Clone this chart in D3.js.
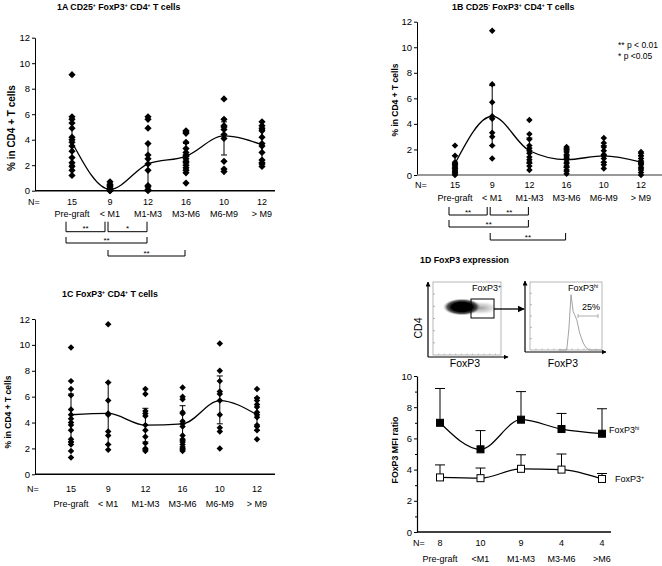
<!DOCTYPE html>
<html><head><meta charset="utf-8">
<script src="https://cdn.jsdelivr.net/npm/d3@7"></script>
<style>body{margin:0;background:#fff}svg{display:block}text{font-family:"Liberation Sans",Arial,sans-serif;fill:#000}</style>
</head><body>
<svg id="c" width="662" height="566"></svg>
<script>
// ---------------- DATA ----------------
const groups = ["Pre-graft", "< M1", "M1-M3", "M3-M6", "M6-M9", "> M9"];
const groupN = [15, 9, 12, 16, 10, 12];
const yTicks = [0, 2, 4, 6, 8, 10, 12];

// 1A CD25+ FoxP3+ CD4+ T cells
const panelA_values = [
  [9.1, 5.8, 5.6, 5.3, 4.9, 4.2, 4.0, 3.8, 3.5, 3.1, 2.6, 2.2, 1.9, 1.6, 1.2],
  [0.7, 0.5, 0.4, 0.3, 0.2, 0.1, 0.05, 0, 0],
  [5.8, 5.6, 4.9, 3.7, 2.8, 2.5, 2.1, 1.6, 0.4, 0.3, 0.1, 0],
  [4.7, 4.6, 4.5, 3.8, 3.3, 3.0, 2.8, 2.7, 2.5, 2.3, 2.2, 2.0, 1.8, 1.6, 1.4, 0.6],
  [7.2, 5.6, 5.1, 5.0, 4.8, 4.4, 4.1, 2.3, 1.7, 1.5],
  [5.4, 5.1, 4.9, 4.7, 4.2, 3.7, 3.5, 3.0, 2.4, 2.2, 2.1, 1.9]
];
const panelA_line = [3.8, 0.1, 2.1, 2.7, 4.3, 3.6];
const panelA_errLo = [2.0, 0.0, 0.0, 1.7, 2.8, 2.4];
const panelA_errHi = [5.6, 0.5, 3.7, 3.7, 5.4, 4.8];
const panelA_brackets = [[0, 1, "**", 0], [1, 2, "*", 0], [0, 2, "**", 1], [1, 3, "**", 2]];

// 1B CD25- FoxP3+ CD4+ T cells
const panelB_values = [
  [2.3, 1.5, 1.0, 0.9, 0.8, 0.8, 0.7, 0.6, 0.5, 0.5, 0.4, 0.3, 0.2, 0.1, 0.0],
  [11.3, 7.1, 5.7, 4.6, 4.4, 3.3, 3.0, 2.3, 1.3],
  [4.3, 3.2, 2.8, 2.3, 2.1, 1.9, 1.7, 1.4, 1.2, 1.0, 0.7, 0.4],
  [2.2, 2.1, 2.0, 1.8, 1.6, 1.5, 1.4, 1.3, 1.2, 1.0, 0.9, 0.7, 0.6, 0.4, 0.3, 0.1],
  [2.9, 2.5, 2.2, 1.9, 1.6, 1.5, 1.3, 1.0, 0.8, 0.5],
  [1.8, 1.7, 1.5, 1.3, 1.1, 1.0, 0.9, 0.8, 0.6, 0.4, 0.2, 0.0]
];
const panelB_line = [0.9, 4.6, 1.9, 1.2, 1.5, 1.0];
const panelB_errLo = [0.3, 2.3, 0.9, 0.6, 1.0, 0.5];
const panelB_errHi = [1.5, 7.0, 2.9, 1.9, 2.3, 1.5];
const panelB_brackets = [[0, 1, "**", 0], [1, 2, "**", 0], [0, 2, "**", 1], [1, 3, "**", 2]];
const pLegend = ["** p < 0.01", "* p <0.05"];

// 1C FoxP3+ CD4+ T cells
const panelC_values = [
  [9.8, 7.2, 6.6, 6.1, 5.0, 4.6, 4.3, 4.0, 3.8, 3.4, 2.7, 2.5, 2.3, 1.8, 1.3],
  [11.6, 7.1, 5.7, 4.7, 4.6, 3.3, 3.0, 2.3, 1.9],
  [6.6, 6.2, 4.9, 4.7, 4.5, 3.8, 3.4, 2.9, 2.4, 2.0, 1.9, 1.8],
  [6.7, 6.0, 5.8, 4.8, 4.7, 4.1, 3.9, 3.7, 3.0, 2.7, 2.5, 2.3, 2.1, 2.0, 1.9, 1.8],
  [10.1, 8.0, 7.2, 6.4, 6.2, 5.7, 4.6, 3.6, 3.3, 2.0],
  [6.6, 5.9, 5.7, 5.4, 5.2, 4.8, 4.6, 4.4, 3.8, 3.7, 3.4, 2.7]
];
const panelC_line = [4.6, 4.7, 3.8, 3.9, 5.7, 4.6];
const panelC_errLo = [2.5, 2.3, 2.5, 2.6, 3.9, 3.4];
const panelC_errHi = [6.2, 7.1, 5.1, 5.3, 7.6, 5.9];

// 1D FoxP3 MFI ratio
const mfiGroups = ["Pre-graft", "<M1", "M1-M3", "M3-M6", ">M6"];
const mfiN = [8, 10, 9, 4, 4];
const mfiTicks = [0, 2, 4, 6, 8, 10];
const mfiHi = [7.0, 5.3, 7.2, 6.6, 6.3];
const mfiHiTop = [9.2, 6.5, 9.0, 7.6, 7.9];
const mfiPos = [3.5, 3.45, 4.05, 4.0, 3.4];
const mfiPosTop = [4.3, 4.1, 4.95, 5.0, 3.75];

// histogram outline of FoxP3hi gate (relative units)
const histX = [40, 51, 54, 57, 60, 62.5, 65, 69, 74, 78, 83, 100];
const histY = [0, 0, 30, 79, 55, 49, 43, 24, 10, 3, 0, 0];

// ---------------- DRAW ----------------
const svg = d3.select("#c");
const FONT = '"Liberation Sans", Arial, sans-serif';

function richText(g, x, y, parts, opts) {
  const t = g.append("text").attr("x", x).attr("y", y)
    .attr("font-size", opts.size).attr("font-weight", opts.bold ? "bold" : "normal");
  parts.forEach(p => {
    if (typeof p === "string") t.append("tspan").text(p);
    else t.append("tspan").attr("font-size", opts.size * 0.6).attr("baseline-shift", "super").text(p.sup);
  });
  return t;
}

const diamond = d3.symbol().type(d3.symbolSquare);

function scatterPanel(cfg) {
  const x = d3.scalePoint().domain(groups).range(cfg.xr);
  const y = d3.scaleLinear().domain([0, 12]).range(cfg.yr);
  const g = svg.append("g");

  const ax = g.append("g").attr("transform", `translate(${cfg.ax},0)`)
    .call(d3.axisLeft(y).tickValues(yTicks).tickSize(3).tickSizeOuter(0).tickPadding(2));
  ax.attr("font-family", FONT).attr("font-size", 9.5);
  ax.select(".domain").attr("stroke", "#000").attr("stroke-width", 1);
  ax.selectAll(".tick line").attr("stroke", "#000");

  g.append("line").attr("x1", cfg.ax).attr("x2", cfg.xEnd)
    .attr("y1", y(0)).attr("y2", y(0))
    .attr("stroke", cfg.xColor || "#000").attr("stroke-width", 1.5);

  groups.forEach((gr, i) => {
    const cx = x(gr);
    const lo = y(cfg.errLo[i]), hi = y(cfg.errHi[i]);
    g.append("line").attr("x1", cx).attr("x2", cx).attr("y1", lo).attr("y2", hi).attr("stroke", "#000").attr("stroke-width", 1);
    [lo, hi].forEach(yy => g.append("line").attr("x1", cx - 3).attr("x2", cx + 3).attr("y1", yy).attr("y2", yy).attr("stroke", "#000").attr("stroke-width", 1));
  });

  cfg.values.forEach((vals, i) => {
    g.selectAll(null).data(vals).enter().append("path")
      .attr("d", diamond.size(cfg.dsize)())
      .attr("transform", v => `translate(${x(groups[i])},${y(v)}) rotate(45)`)
      .attr("fill", "#000");
  });

  const line = d3.line().x((d, i) => x(groups[i])).y(d => y(d)).curve(d3.curveMonotoneX);
  g.append("path").attr("d", line(cfg.line)).attr("fill", "none").attr("stroke", "#000").attr("stroke-width", 1.3);

  g.append("text").attr("x", cfg.nX).attr("y", cfg.nY).attr("font-size", 9).text("N=");
  groups.forEach((gr, i) => {
    g.append("text").attr("x", x(gr)).attr("y", cfg.nY).attr("text-anchor", "middle").attr("font-size", 9).text(groupN[i]);
    g.append("text").attr("x", x(gr)).attr("y", cfg.labY).attr("text-anchor", "middle").attr("font-size", 9).text(gr);
  });

  g.append("text").attr("transform", `translate(${cfg.ylX},${cfg.ylY}) rotate(-90)`)
    .attr("text-anchor", "middle").attr("font-size", cfg.ylSize).attr("font-weight", "bold")
    .text("% in CD4 + T cells");

  if (cfg.brackets) {
    cfg.brackets.forEach(([a, b, lab, row]) => {
      const left = x(groups[a]) - (a === 0 ? 6 : 2);
      const right = x(groups[b]) - (row === 0 && b === 1 ? 5 : 1);
      const top = cfg.bTop[row], bot = cfg.bBot[row];
      g.append("path").attr("d", `M${left},${top}V${bot}H${right}V${top}`)
        .attr("fill", "none").attr("stroke", "#000").attr("stroke-width", 1);
      g.append("text").attr("x", (left + right) / 2).attr("y", bot - 0.5).attr("text-anchor", "middle")
        .attr("font-size", 8).text(lab);
    });
  }
  return { x, y };
}

function title(x, y, parts) {
  const t = svg.append("text").attr("x", x).attr("y", y).attr("font-size", 8.8).attr("font-weight", "bold");
  parts.forEach(p => {
    if (typeof p === "string") t.append("tspan").text(p);
    else t.append("tspan").attr("font-size", 5).attr("baseline-shift", "super").text(p.sup);
  });
}

title(57, 9.5, ["1A  CD25", { sup: "+" }, " FoxP3", { sup: "+" }, " CD4", { sup: "+" }, " T cells"]);
title(452, 9.5, ["1B CD25", { sup: "-" }, " FoxP3", { sup: "+" }, " CD4", { sup: "+" }, " T cells"]);
title(62, 296.5, ["1C FoxP3", { sup: "+" }, " CD4", { sup: "+" }, " T cells"]);
title(420, 263, ["1D FoxP3 expression"]);

scatterPanel({
  values: panelA_values, line: panelA_line, errLo: panelA_errLo, errHi: panelA_errHi, brackets: panelA_brackets,
  ax: 35, xEnd: 275, xr: [72, 262], yr: [190.7, 37.7], nX: 28, nY: 205, labY: 216.5,
  ylX: 15, ylY: 128, ylSize: 10, dsize: 26, bTop: [221.7, 237, 250], bBot: [231.7, 243, 256]
});
scatterPanel({
  values: panelB_values, line: panelB_line, errLo: panelB_errLo, errHi: panelB_errHi, brackets: panelB_brackets,
  ax: 417, xEnd: 662, xr: [455, 641], yr: [175, 21.7], nX: 415, nY: 188, labY: 200.5, xColor: "#777",
  ylX: 398, ylY: 100, ylSize: 8.5, dsize: 21, bTop: [207, 220, 233], bBot: [215, 227, 240]
});
scatterPanel({
  values: panelC_values, line: panelC_line, errLo: panelC_errLo, errHi: panelC_errHi,
  ax: 35, xEnd: 275, xr: [71, 257], yr: [474.3, 319], nX: 27, nY: 491.5, labY: 506.5,
  ylX: 10.5, ylY: 412, ylSize: 8.5, dsize: 21
});

pLegend.forEach((t, i) => svg.append("text").attr("x", 618).attr("y", 47.5 + i * 11).attr("font-size", 8.5).text(t));

// ---------------- 1D flow cytometry sketch ----------------
const defs = svg.append("defs");
const rg = defs.append("radialGradient").attr("id", "blob");
[[0, "#000", 1], [0.55, "#000", 1], [0.78, "#222", 0.75], [0.92, "#777", 0.3], [1, "#999", 0]].forEach(([o, c, op]) =>
  rg.append("stop").attr("offset", o).attr("stop-color", c).attr("stop-opacity", op));
const rg2 = defs.append("radialGradient").attr("id", "tail");
[[0, "#777", 0.7], [0.6, "#aaa", 0.45], [1, "#ccc", 0]].forEach(([o, c, op]) =>
  rg2.append("stop").attr("offset", o).attr("stop-color", c).attr("stop-opacity", op));
const mk = defs.append("marker").attr("id", "arr").attr("viewBox", "0 0 10 10").attr("refX", 9).attr("refY", 5)
  .attr("markerWidth", 7).attr("markerHeight", 7).attr("markerUnits", "userSpaceOnUse").attr("orient", "auto");
mk.append("path").attr("d", "M0,0L10,5L0,10Z").attr("fill", "#000");
const mk2 = defs.append("marker").attr("id", "arr2").attr("viewBox", "0 0 10 10").attr("refX", 9).attr("refY", 5)
  .attr("markerWidth", 5).attr("markerHeight", 5).attr("markerUnits", "userSpaceOnUse").attr("orient", "auto");
mk2.append("path").attr("d", "M0,0L10,5L0,10Z").attr("fill", "#000");

const fc = svg.append("g");
function frame(x0, y0, x1, y1) {
  fc.append("rect").attr("x", x0).attr("y", y0).attr("width", x1 - x0).attr("height", y1 - y0)
    .attr("fill", "none").attr("stroke", "#999").attr("stroke-width", 0.7);
  d3.range(1, 6).forEach(k => {
    const yy = y0 + (y1 - y0) * k / 6;
    fc.append("line").attr("x1", x0).attr("x2", x0 + 2).attr("y1", yy).attr("y2", yy).attr("stroke", "#999").attr("stroke-width", 0.7);
  });
  d3.range(1, 12).forEach(k => {
    const xx = x0 + (x1 - x0) * k / 12;
    fc.append("line").attr("x1", xx).attr("x2", xx).attr("y1", y1).attr("y2", y1 - 1.5).attr("stroke", "#999").attr("stroke-width", 0.6);
  });
}
frame(433, 282, 501, 355);
fc.append("ellipse").attr("cx", 481).attr("cy", 308).attr("rx", 17).attr("ry", 6.5).attr("fill", "url(#tail)");
fc.append("ellipse").attr("cx", 462).attr("cy", 307).attr("rx", 19).attr("ry", 8.5).attr("fill", "url(#blob)");
fc.append("rect").attr("x", 471).attr("y", 299).attr("width", 23).attr("height", 19).attr("fill", "none").attr("stroke", "#000").attr("stroke-width", 1);
fc.append("line").attr("x1", 428).attr("y1", 357).attr("x2", 428).attr("y2", 282).attr("stroke", "#000").attr("stroke-width", 1.2).attr("marker-end", "url(#arr2)");
fc.append("line").attr("x1", 428).attr("y1", 357).attr("x2", 508).attr("y2", 357).attr("stroke", "#000").attr("stroke-width", 1.2).attr("marker-end", "url(#arr2)");
fc.append("line").attr("x1", 494).attr("y1", 309).attr("x2", 524).attr("y2", 309).attr("stroke", "#000").attr("stroke-width", 1.3).attr("marker-end", "url(#arr)");
richText(fc, 472, 291, ["FoxP3", { sup: "+" }], { size: 9 });
fc.append("text").attr("transform", "translate(422,328) rotate(-90)").attr("text-anchor", "middle").attr("font-size", 10.5).text("CD4");
fc.append("text").attr("x", 465).attr("y", 367).attr("text-anchor", "middle").attr("font-size", 10.5).text("FoxP3");

frame(530, 282, 602, 350);
const hx = d3.scaleLinear().domain([0, 100]).range([530, 602]);
const hy = d3.scaleLinear().domain([0, 100]).range([350, 280]);
fc.append("path").attr("d", d3.line().x((d, i) => hx(histX[i])).y(d => hy(d))(histY))
  .attr("fill", "none").attr("stroke", "#999").attr("stroke-width", 0.9);
fc.append("line").attr("x1", 525).attr("y1", 352).attr("x2", 525).attr("y2", 281).attr("stroke", "#000").attr("stroke-width", 1.2).attr("marker-end", "url(#arr2)");
fc.append("line").attr("x1", 525).attr("y1", 352).attr("x2", 606).attr("y2", 352).attr("stroke", "#000").attr("stroke-width", 1.2).attr("marker-end", "url(#arr2)");
richText(fc, 568, 291, ["FoxP3", { sup: "hi" }], { size: 9 });
fc.append("text").attr("x", 582).attr("y", 310).attr("font-size", 9).text("25%");
fc.append("path").attr("d", "M578,314V318M578,316H598M598,314V318").attr("stroke", "#999").attr("stroke-width", 0.8).attr("fill", "none");
fc.append("text").attr("x", 563).attr("y", 367).attr("text-anchor", "middle").attr("font-size", 10.5).text("FoxP3");

// ---------------- 1D MFI chart ----------------
const mx = d3.scalePoint().domain(mfiGroups).range([440, 602]);
const my = d3.scaleLinear().domain([0, 10]).range([532, 376]);
const mg = svg.append("g");
const max = mg.append("g").attr("transform", "translate(417,0)")
  .call(d3.axisLeft(my).tickValues(mfiTicks).tickSize(3).tickSizeOuter(0).tickPadding(2));
max.attr("font-family", FONT).attr("font-size", 9.5);
max.select(".domain").attr("stroke", "#000").attr("stroke-width", 1.2);
max.selectAll(".tick line").attr("stroke", "#000");
mg.append("g").attr("transform", "translate(417,0)")
  .call(d3.axisLeft(my).tickValues([1, 3, 5, 7, 9]).tickSize(2).tickSizeOuter(0).tickFormat(""))
  .call(s => s.select(".domain").remove()).selectAll("line").attr("stroke", "#000");
mg.append("line").attr("x1", 417).attr("x2", 611).attr("y1", my(0)).attr("y2", my(0)).attr("stroke", "#000").attr("stroke-width", 1.5);

function mfiSeries(vals, tops, filled) {
  mfiGroups.forEach((gr, i) => {
    const cx = mx(gr);
    mg.append("line").attr("x1", cx).attr("x2", cx).attr("y1", my(vals[i])).attr("y2", my(tops[i])).attr("stroke", "#000").attr("stroke-width", 1);
    mg.append("line").attr("x1", cx - 5).attr("x2", cx + 5).attr("y1", my(tops[i])).attr("y2", my(tops[i])).attr("stroke", "#000").attr("stroke-width", 1);
  });
  const line = d3.line().x((d, i) => mx(mfiGroups[i])).y(d => my(d)).curve(d3.curveMonotoneX);
  mg.append("path").attr("d", line(vals)).attr("fill", "none").attr("stroke", "#000").attr("stroke-width", 1.2);
  mg.selectAll(null).data(vals).enter().append("rect")
    .attr("x", (d, i) => mx(mfiGroups[i]) - 3.5).attr("y", d => my(d) - 3.5)
    .attr("width", 7).attr("height", 7)
    .attr("fill", filled ? "#000" : "#fff").attr("stroke", "#000").attr("stroke-width", 1);
}
mfiSeries(mfiHi, mfiHiTop, true);
mfiSeries(mfiPos, mfiPosTop, false);

richText(mg, 609, 433, ["FoxP3", { sup: "hi" }], { size: 9 });
richText(mg, 615, 482, ["FoxP3", { sup: "+" }], { size: 9 });

mg.append("text").attr("transform", "translate(398,450) rotate(-90)").attr("text-anchor", "middle")
  .attr("font-size", 8.8).attr("font-weight", "bold").text("FOxP3 MFI ratio");

mg.append("text").attr("x", 413).attr("y", 546).attr("font-size", 9).text("N=");
mfiGroups.forEach((gr, i) => {
  mg.append("text").attr("x", mx(gr)).attr("y", 546).attr("text-anchor", "middle").attr("font-size", 9).text(mfiN[i]);
  mg.append("text").attr("x", mx(gr)).attr("y", 562).attr("text-anchor", "middle").attr("font-size", 9).text(gr);
});
</script>
</body></html>
